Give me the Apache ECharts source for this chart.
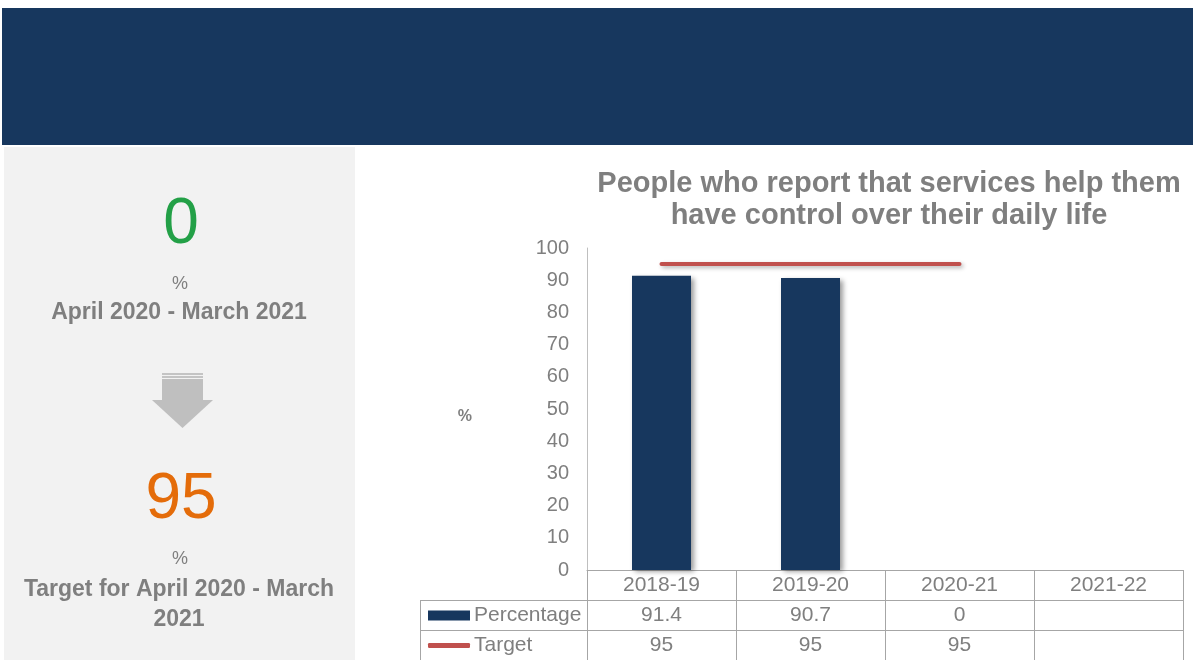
<!DOCTYPE html>
<html>
<head>
<meta charset="utf-8">
<script src="https://cdn.jsdelivr.net/npm/echarts@6/dist/echarts.min.js"></script>
<style>
  html, body { margin: 0; padding: 0; background: #ffffff; }
  #chart { width: 1193px; height: 660px; }
</style>
</head>
<body>
<div id="chart"></div>
<script>
// Reporting years and measured values
const categories = ['2018-19', '2019-20', '2020-21', '2021-22'];
const percentage = [91.4, 90.7, 0, null];
const target = [95, 95, 95, null];
const yTicks = { min: 0, max: 100, interval: 10 };

// Headline figures shown in the side panel
const currentValue = '0';
const currentPeriod = 'April 2020 - March 2021';
const targetValue = '95';
const targetPeriodLines = ['Target for April 2020 - March', '2021'];
const chartTitle = 'People who report that services help them\nhave control over their daily life';

const NAVY = '#17375e';
const RED = '#c0504d';
const GREY_TEXT = '#7f7f7f';
const GRID_LINE = '#a6a6a6';
const FONT = '"Liberation Sans", Arial, sans-serif';
const TABLE_FONT = 21;

const cellText = (arr) => (v, i) => (arr[i] === null || arr[i] === undefined) ? '' : String(arr[i]);

const chart = echarts.init(document.getElementById('chart'), null, { renderer: 'canvas' });

const legendText = { color: GREY_TEXT, fontSize: TABLE_FONT, fontFamily: FONT, padding: [0, 0, 0, -1] };

const option = {
  backgroundColor: '#ffffff',
  animation: false,
  textStyle: { fontFamily: FONT },
  grid: { left: 587, right: 10, top: 248, bottom: 90, containLabel: false },
  legend: [
    {
      data: [{ name: 'Percentage', icon: 'rect' }], left: 428, top: 605, padding: 0,
      itemWidth: 42, itemHeight: 10, selectedMode: false, textStyle: legendText
    },
    {
      data: [{ name: 'Target', icon: 'roundRect' }], left: 428, top: 635, padding: 0,
      itemWidth: 42, itemHeight: 5, selectedMode: false, textStyle: legendText,
      itemStyle: { color: RED, borderWidth: 0 }
    }
  ],
  xAxis: [
    {
      type: 'category', data: categories, position: 'bottom', boundaryGap: true,
      axisLine: { show: true, lineStyle: { color: GRID_LINE, width: 1 } },
      axisTick: { show: true, interval: 0, length: 90, lineStyle: { color: GRID_LINE, width: 1 } },
      axisLabel: { color: GREY_TEXT, fontSize: TABLE_FONT, margin: 5, interval: 0, fontFamily: FONT }
    },
    {
      type: 'category', data: categories, position: 'bottom', offset: 30, boundaryGap: true,
      axisLine: { show: true, lineStyle: { color: GRID_LINE, width: 1 } },
      axisTick: { show: false },
      axisLabel: { color: GREY_TEXT, fontSize: TABLE_FONT, margin: 5, interval: 0, fontFamily: FONT,
                   formatter: cellText(percentage) }
    },
    {
      type: 'category', data: categories, position: 'bottom', offset: 60, boundaryGap: true,
      axisLine: { show: true, lineStyle: { color: GRID_LINE, width: 1 } },
      axisTick: { show: false },
      axisLabel: { color: GREY_TEXT, fontSize: TABLE_FONT, margin: 5, interval: 0, fontFamily: FONT,
                   formatter: cellText(target) }
    }
  ],
  yAxis: {
    type: 'value', min: yTicks.min, max: yTicks.max, interval: yTicks.interval,
    name: '%', nameLocation: 'middle', nameGap: 115, nameRotate: 0,
    nameTextStyle: { color: GREY_TEXT, fontSize: 16, fontWeight: 'bold', fontFamily: FONT, verticalAlign: 'top' },
    axisLine: { show: true, lineStyle: { color: '#bfbfbf', width: 1 } },
    axisTick: { show: false },
    splitLine: { show: false },
    axisLabel: { color: GREY_TEXT, fontSize: 20, margin: 18, fontFamily: FONT }
  },
  series: [
    {
      name: 'Percentage', type: 'bar', data: percentage, barWidth: 59,
      xAxisIndex: 0,
      itemStyle: {
        color: NAVY,
        shadowColor: 'rgba(0,0,0,0.4)', shadowBlur: 5, shadowOffsetX: 3, shadowOffsetY: 2
      }
    },
    {
      name: 'Target', type: 'line', data: target, xAxisIndex: 0,
      symbol: 'none', showSymbol: false,
      lineStyle: {
        color: RED, width: 4, cap: 'round',
        shadowColor: 'rgba(0,0,0,0.3)', shadowBlur: 4, shadowOffsetX: 2, shadowOffsetY: 2
      },
      itemStyle: { color: RED }
    }
  ],
  graphic: [
    // header band
    { type: 'rect', left: 2, top: 8, shape: { width: 1191, height: 137 }, style: { fill: NAVY }, z: -10 },
    // side panel
    { type: 'rect', left: 4, top: 147, shape: { width: 351, height: 513 }, style: { fill: '#f2f2f2' }, z: -10 },
    // chart title
    { type: 'text', x: 889, y: 168, style: { text: chartTitle, fill: GREY_TEXT, font: 'bold 29px ' + FONT,
      align: 'center', verticalAlign: 'top', lineHeight: 32 } },
    // headline value
    { type: 'text', x: 181, y: 225, style: { text: currentValue, fill: '#23a047', font: '64px ' + FONT,
      align: 'center', verticalAlign: 'middle' } },
    { type: 'text', x: 180, y: 284, style: { text: '%', fill: GREY_TEXT, font: '18px ' + FONT,
      align: 'center', verticalAlign: 'middle' } },
    { type: 'text', x: 179, y: 313, style: { text: currentPeriod, fill: GREY_TEXT, font: 'bold 23px ' + FONT,
      align: 'center', verticalAlign: 'middle' } },
    // arrow
    { type: 'rect', shape: { x: 162, y: 373, width: 41, height: 2 }, style: { fill: '#c4c4c4' } },
    { type: 'rect', shape: { x: 162, y: 376, width: 41, height: 2 }, style: { fill: '#c4c4c4' } },
    { type: 'rect', shape: { x: 162, y: 379, width: 41, height: 22 }, style: { fill: '#bfbfbf' } },
    { type: 'polygon', shape: { points: [[152, 400], [213, 400], [182.5, 428]] }, style: { fill: '#bfbfbf' } },
    // target value
    { type: 'text', x: 181, y: 500, style: { text: targetValue, fill: '#e46c0a', font: '64px ' + FONT,
      align: 'center', verticalAlign: 'middle' } },
    { type: 'text', x: 180, y: 559, style: { text: '%', fill: GREY_TEXT, font: '18px ' + FONT,
      align: 'center', verticalAlign: 'middle' } },
    { type: 'text', x: 179, y: 590, style: { text: targetPeriodLines[0], fill: GREY_TEXT, font: 'bold 23px ' + FONT,
      align: 'center', verticalAlign: 'middle' } },
    { type: 'text', x: 179, y: 620, style: { text: targetPeriodLines[1], fill: GREY_TEXT, font: 'bold 23px ' + FONT,
      align: 'center', verticalAlign: 'middle' } },
    // table row-header frame
    { type: 'line', shape: { x1: 420, y1: 600.5, x2: 587, y2: 600.5 }, style: { stroke: GRID_LINE, lineWidth: 1 } },
    { type: 'line', shape: { x1: 420, y1: 630.5, x2: 587, y2: 630.5 }, style: { stroke: GRID_LINE, lineWidth: 1 } },
    { type: 'line', shape: { x1: 420.5, y1: 600, x2: 420.5, y2: 660 }, style: { stroke: GRID_LINE, lineWidth: 1 } }
  ]
};

chart.setOption(option);
</script>
</body>
</html>
